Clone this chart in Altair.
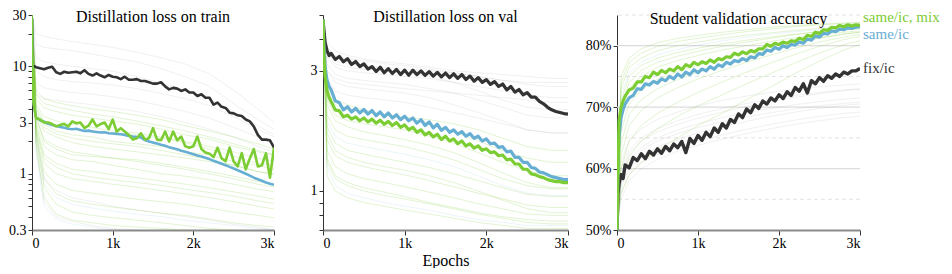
import altair as alt
import pandas as pd

FONT = "'Liberation Serif', 'Times New Roman', Times, serif"
GREEN = "#7ccc34"
BLUE = "#67aed3"
DARK = "#333333"
GRAY = "#8c8c8c"

# ---------------- epochs ----------------
E_TRAIN = [0, 10] + list(range(50, 3001, 50))
E_MAIN = [0, 10, 25, 50, 75] + list(range(100, 3001, 50))
F_E = [0, 50, 150, 300, 500, 750, 1000, 1300, 1600, 1900, 2200, 2500, 2800, 3000]

# ---------------- panel 1: distillation loss on train ----------------
TRAIN_FIX = [28, 10.3,
             9.8, 9.6, 9.4, 9.7, 9.9, 8.8, 8.5, 8.9, 8.7, 8.8,
             8.9, 8.6, 9.2, 8.5, 8.2, 8.6, 8.2, 7.9, 8.3, 8.0,
             7.9, 7.6, 8.0, 7.5, 7.5, 7.6, 7.3, 7.3, 7.1, 6.9,
             6.9, 7.1, 6.5, 6.1, 6.3, 6.2, 5.9, 6.1, 5.7, 5.7,
             5.3, 5.5, 5.1, 5.1, 4.4, 4.6, 4.2, 4.1, 3.7, 3.65,
             3.5, 3.45, 3.2, 3.07, 2.75, 2.3, 2.08, 2.08, 2.05, 1.75]
TRAIN_MIX = [28, 5.1,
             3.3, 3.2, 3.0, 3.0, 2.9, 2.76, 2.85, 2.9, 2.76, 3.07,
             2.95, 3.0, 2.66, 2.8, 3.2, 2.76, 2.9, 3.0, 2.6, 3.2,
             2.47, 2.66, 2.47, 2.3, 2.08, 2.14, 2.38, 2.08, 2.14, 2.66,
             2.08, 2.05, 2.47, 2.0, 2.47, 2.05, 2.22, 1.8, 1.75, 1.8,
             2.22, 1.7, 1.58, 1.54, 1.43, 1.75, 1.39, 1.31, 1.75, 1.3,
             1.17, 1.56, 1.1, 1.39, 1.7, 1.17, 1.2, 1.55, 0.92, 1.75]
TRAIN_SAME = [28, 5.0,
              3.33, 3.15, 3.05, 2.92, 2.85, 2.78, 2.72, 2.68, 2.62, 2.6,
              2.62, 2.55, 2.5, 2.52, 2.47, 2.45, 2.42, 2.43, 2.38, 2.37,
              2.35, 2.33, 2.3, 2.25, 2.22, 2.2, 2.18, 2.06, 2.0, 1.95,
              1.91, 1.86, 1.82, 1.77, 1.73, 1.69, 1.64, 1.6, 1.56, 1.52,
              1.48, 1.45, 1.41, 1.37, 1.32, 1.28, 1.24, 1.2, 1.16, 1.12,
              1.08, 1.04, 1.0, 0.96, 0.92, 0.89, 0.86, 0.83, 0.81, 0.79]

TRAIN_FAINT_GREEN = {
    "tg1": [30, 6.0, 5.0, 4.6, 4.3, 4.0, 3.8, 3.5, 3.2, 2.8, 2.5, 2.2, 1.9, 1.7],
    "tg2": [30, 5.0, 4.1, 3.8, 3.5, 3.3, 3.1, 2.9, 2.6, 2.3, 2.1, 1.8, 1.6, 1.5],
    "tg3": [30, 4.4, 3.4, 3.1, 2.9, 2.7, 2.5, 2.4, 2.2, 2.0, 1.8, 1.6, 1.4, 1.3],
    "tg4": [30, 4.0, 2.9, 2.5, 2.3, 2.2, 2.0, 1.9, 1.8, 1.6, 1.5, 1.3, 1.2, 1.1],
    "tg5": [30, 3.6, 2.5, 2.2, 1.95, 1.8, 1.7, 1.6, 1.5, 1.4, 1.3, 1.2, 1.05, 1.0],
    "tg6": [30, 3.3, 2.1, 1.8, 1.6, 1.5, 1.4, 1.35, 1.25, 1.15, 1.05, 0.95, 0.85, 0.8],
    "tg7": [30, 3.0, 1.8, 1.5, 1.35, 1.3, 1.2, 1.1, 1.0, 0.95, 0.88, 0.8, 0.72, 0.68],
    "tg8": [30, 2.8, 1.5, 1.25, 1.1, 1.05, 0.98, 0.92, 0.86, 0.8, 0.74, 0.68, 0.62, 0.58],
    "tg9": [30, 2.6, 1.25, 1.0, 0.9, 0.85, 0.8, 0.75, 0.7, 0.65, 0.6, 0.55, 0.5, 0.47],
    "tg10": [30, 2.4, 1.05, 0.8, 0.7, 0.66, 0.62, 0.58, 0.55, 0.52, 0.48, 0.44, 0.41, 0.39],
    "tg11": [30, 2.2, 0.9, 0.65, 0.56, 0.52, 0.49, 0.46, 0.43, 0.41, 0.38, 0.35, 0.33, 0.32],
    "tg12": [30, 2.0, 0.75, 0.52, 0.44, 0.41, 0.39, 0.37, 0.35, 0.33, 0.31, 0.3, 0.29, 0.28],
    "tg13": [30, 4.2, 3.1, 2.8, 2.6, 2.5, 2.4, 2.3, 2.15, 1.95, 1.7, 1.45, 1.25, 1.2],
    "tg14": [30, 3.4, 2.0, 1.7, 1.5, 1.45, 1.4, 1.3, 1.2, 1.1, 1.0, 0.9, 0.8, 0.75],
    "tg15": [30, 2.7, 1.4, 1.15, 1.0, 0.93, 0.88, 0.83, 0.78, 0.72, 0.67, 0.62, 0.56, 0.53],
    "tg16": [30, 1.8, 0.6, 0.42, 0.37, 0.35, 0.33, 0.32, 0.31, 0.3, 0.29, 0.28, 0.27, 0.27],
    "tg17": [30, 5.5, 4.5, 4.2, 3.9, 3.6, 3.4, 3.1, 2.8, 2.5, 2.2, 1.9, 1.65, 1.5],
    "tg18": [30, 3.8, 2.7, 2.35, 2.15, 2.0, 1.9, 1.8, 1.65, 1.5, 1.35, 1.2, 1.05, 0.98],
}
TRAIN_FAINT_GRAY = {
    "tk1": [30, 20, 19, 18, 17, 16, 15, 13.5, 12, 10.5, 8.5, 6, 4, 3],
    "tk2": [30, 16, 15, 14.5, 14, 13, 12, 11, 9.5, 8, 6.5, 4.5, 3.2, 2.6],
    "tk3": [30, 12, 11, 10.5, 10, 9.5, 9, 8, 7, 6, 5, 3.8, 2.8, 2.3],
    "tk4": [30, 9, 8, 7.5, 7.2, 7, 6.7, 6.2, 5.6, 5, 4.3, 3.4, 2.6, 2.2],
    "tk5": [30, 7, 6.3, 6, 5.7, 5.5, 5.2, 4.8, 4.3, 3.8, 3.3, 2.7, 2.2, 1.9],
    "tk6": [30, 5.5, 5, 4.8, 4.6, 4.4, 4.1, 3.8, 3.4, 3.0, 2.6, 2.2, 1.8, 1.6],
    "tk7": [30, 2.5, 0.9, 0.7, 0.6, 0.55, 0.5, 0.46, 0.43, 0.4, 0.37, 0.34, 0.32, 0.3],
    "tk8": [30, 1.9, 0.55, 0.4, 0.36, 0.33, 0.31, 0.3, 0.29, 0.28, 0.28, 0.27, 0.27, 0.26],
}
TRAIN_FAINT_BLUE = {
    "tb1": [30, 1.6, 0.5, 0.38, 0.34, 0.32, 0.3, 0.29, 0.28, 0.28, 0.27, 0.27, 0.26, 0.26],
    "tb2": [30, 2.3, 0.8, 0.6, 0.52, 0.48, 0.45, 0.42, 0.4, 0.37, 0.35, 0.33, 0.31, 0.3],
}

# ---------------- panel 2: distillation loss on val ----------------
VAL_FIX = [4.8, 4.4, 3.9, 3.6, 3.45,
           3.52, 3.33, 3.42, 3.26, 3.35, 3.18, 3.27, 3.12, 3.20, 3.05,
           3.12, 2.98, 3.10, 2.95, 3.06, 2.93, 3.04, 2.90, 3.02, 2.88,
           3.02, 2.90, 3.00, 2.88, 2.98, 2.86, 2.96, 2.84, 2.94, 2.82,
           2.92, 2.80, 2.90, 2.77, 2.86, 2.73, 2.82, 2.70, 2.77, 2.65,
           2.72, 2.60, 2.66, 2.52, 2.60, 2.47, 2.53, 2.41, 2.46, 2.36,
           2.36, 2.27, 2.22, 2.15, 2.10, 2.07, 2.05, 2.03, 2.02]
VAL_SAME = [4.8, 3.8, 3.1, 2.75, 2.6,
            2.52, 2.28, 2.24, 2.10, 2.16, 2.06, 2.13, 2.04, 2.11, 2.02,
            2.09, 1.99, 2.06, 1.97, 2.04, 1.95, 2.01, 1.92, 1.98, 1.90,
            1.95, 1.86, 1.92, 1.82, 1.88, 1.78, 1.84, 1.74, 1.79, 1.71,
            1.75, 1.68, 1.72, 1.65, 1.69, 1.62, 1.65, 1.58, 1.61, 1.54,
            1.55, 1.49, 1.50, 1.43, 1.44, 1.36, 1.36, 1.30, 1.30, 1.24,
            1.23, 1.19, 1.18, 1.16, 1.14, 1.13, 1.12, 1.11, 1.11]
VAL_MIX = [4.8, 3.5, 2.85, 2.5, 2.35,
           2.26, 2.10, 2.08, 1.97, 2.00, 1.93, 1.97, 1.90, 1.95, 1.88,
           1.93, 1.86, 1.91, 1.84, 1.89, 1.82, 1.87, 1.79, 1.83, 1.75,
           1.79, 1.71, 1.75, 1.67, 1.71, 1.64, 1.68, 1.60, 1.65, 1.58,
           1.61, 1.54, 1.58, 1.51, 1.54, 1.48, 1.51, 1.45, 1.47, 1.42,
           1.43, 1.38, 1.39, 1.33, 1.34, 1.28, 1.28, 1.22, 1.22, 1.17,
           1.16, 1.14, 1.13, 1.11, 1.10, 1.09, 1.09, 1.08, 1.08]

VAL_FAINT_GRAY = {
    "vk1": [4.8, 3.9, 3.6, 3.45, 3.35, 3.25, 3.2, 3.1, 3.0, 2.95, 2.9, 2.85, 2.8, 2.8],
    "vk2": [4.8, 3.6, 3.3, 3.2, 3.15, 3.1, 3.05, 3.0, 2.95, 2.85, 2.75, 2.65, 2.6, 2.6],
    "vk3": [4.8, 3.4, 3.1, 3.0, 2.95, 2.9, 2.85, 2.8, 2.7, 2.6, 2.5, 2.4, 2.35, 2.35],
    "vk4": [4.8, 3.2, 2.9, 2.8, 2.75, 2.7, 2.65, 2.55, 2.45, 2.3, 2.15, 2.0, 1.95, 1.95],
    "vk5": [4.8, 3.0, 2.7, 2.6, 2.55, 2.5, 2.45, 2.35, 2.2, 2.05, 1.9, 1.75, 1.7, 1.7],
    "vk6": [4.8, 2.8, 2.5, 2.4, 2.35, 2.3, 2.25, 2.15, 2.05, 1.95, 1.85, 1.75, 1.7, 1.7],
    "vk7": [4.8, 3.5, 3.2, 3.1, 3.05, 3.0, 2.95, 2.85, 2.7, 2.5, 2.3, 2.15, 2.1, 2.1],
    "vk8": [4.8, 3.0, 2.8, 2.7, 2.65, 2.6, 2.55, 2.5, 2.45, 2.4, 2.35, 2.3, 2.25, 2.25],
    "vk9": [4.8, 3.7, 3.45, 3.35, 3.3, 3.2, 3.15, 3.05, 2.95, 2.85, 2.75, 2.7, 2.7, 2.7],
}
VAL_FAINT_GREEN = {
    "vg1": [4.8, 2.6, 2.3, 2.2, 2.1, 2.0, 1.95, 1.85, 1.72, 1.58, 1.45, 1.35, 1.3, 1.3],
    "vg2": [4.8, 2.3, 2.0, 1.9, 1.85, 1.8, 1.75, 1.65, 1.55, 1.42, 1.3, 1.2, 1.15, 1.15],
    "vg3": [4.8, 2.0, 1.75, 1.65, 1.6, 1.55, 1.5, 1.42, 1.33, 1.22, 1.12, 1.05, 1.02, 1.02],
    "vg4": [4.8, 1.8, 1.55, 1.45, 1.4, 1.35, 1.3, 1.24, 1.17, 1.1, 1.03, 0.97, 0.95, 0.95],
    "vg5": [4.8, 1.6, 1.38, 1.3, 1.25, 1.2, 1.16, 1.1, 1.04, 0.98, 0.93, 0.88, 0.86, 0.86],
    "vg6": [4.8, 1.45, 1.25, 1.17, 1.12, 1.08, 1.04, 0.99, 0.94, 0.89, 0.85, 0.81, 0.8, 0.8],
    "vg7": [4.8, 1.3, 1.12, 1.05, 1.0, 0.96, 0.93, 0.89, 0.85, 0.81, 0.78, 0.75, 0.74, 0.74],
    "vg8": [4.8, 1.15, 1.0, 0.94, 0.9, 0.87, 0.84, 0.81, 0.78, 0.75, 0.73, 0.71, 0.71, 0.71],
    "vg9": [4.8, 2.2, 1.9, 1.8, 1.72, 1.66, 1.6, 1.52, 1.42, 1.3, 1.18, 1.08, 1.03, 1.03],
    "vg10": [4.8, 1.7, 1.45, 1.36, 1.3, 1.25, 1.21, 1.15, 1.08, 1.0, 0.92, 0.85, 0.82, 0.82],
    "vg11": [4.8, 2.5, 2.2, 2.1, 2.05, 2.0, 1.97, 1.92, 1.85, 1.75, 1.62, 1.5, 1.45, 1.45],
    "vg12": [4.8, 1.35, 1.15, 1.08, 1.03, 0.99, 0.95, 0.9, 0.86, 0.82, 0.79, 0.77, 0.76, 0.76],
}
VAL_FAINT_BLUE = {
    "vb1": [4.8, 1.9, 1.65, 1.55, 1.5, 1.45, 1.4, 1.33, 1.25, 1.15, 1.05, 0.98, 0.96, 0.96],
    "vb2": [4.8, 1.25, 1.05, 0.98, 0.94, 0.9, 0.87, 0.84, 0.8, 0.77, 0.75, 0.73, 0.73, 0.73],
}

# ---------------- panel 3: student validation accuracy ----------------
ACC_FIX = [50, 55.8, 57.5, 59.0, 58.4,
           60.6, 60.1, 61.8, 61.3, 62.4, 61.6, 62.8, 62.2, 63.2, 62.5,
           63.6, 62.9, 64.0, 63.4, 64.4, 62.6, 64.9, 64.1, 65.4, 64.6,
           65.9, 65.2, 66.6, 65.9, 67.3, 66.6, 68.0, 67.5, 68.9, 68.3,
           69.7, 69.1, 70.4, 69.8, 71.0, 70.5, 71.5, 71.0, 72.0, 71.4,
           72.5, 71.9, 73.2, 72.6, 73.8, 72.3, 74.3, 73.8, 74.8, 74.2,
           75.1, 74.7, 75.4, 75.0, 75.7, 75.4, 75.9, 75.9, 76.3]
ACC_MIX = [50, 58.5, 67.7, 70.0, 71.0,
           71.8, 72.8, 73.1, 74.1, 74.1, 75.0, 74.8, 75.7, 75.3, 76.0,
           75.6, 76.2, 75.9, 76.6, 76.1, 76.9, 76.6, 77.3, 76.9, 77.4,
           77.1, 77.7, 77.3, 77.9, 77.7, 78.2, 78.1, 78.8, 78.5, 79.0,
           78.7, 79.2, 79.0, 79.5, 79.5, 80.2, 79.9, 80.4, 80.2, 80.6,
           80.4, 80.8, 80.7, 81.2, 81.0, 81.7, 81.5, 82.2, 82.0, 82.6,
           82.5, 83.0, 82.9, 83.3, 83.1, 83.4, 83.2, 83.4, 83.3]
ACC_SAME = [50, 60.0, 65.0, 68.3, 69.6,
            70.5, 71.5, 71.9, 73.0, 72.9, 73.8, 73.6, 74.2, 73.9, 74.6,
            74.3, 75.0, 74.6, 75.4, 74.9, 75.7, 75.3, 76.1, 75.6, 76.2,
            75.9, 76.6, 76.2, 76.9, 76.6, 77.3, 77.0, 77.6, 77.4, 77.9,
            77.6, 78.2, 78.0, 78.7, 78.6, 79.3, 79.1, 79.7, 79.4, 80.0,
            79.7, 80.2, 80.1, 80.6, 80.4, 81.1, 80.9, 81.6, 81.4, 82.0,
            81.9, 82.4, 82.3, 82.7, 82.6, 82.9, 82.8, 83.0, 83.1]

ACC_FAINT_GREEN = {
    "ag1": [50, 75, 78, 79.5, 80.5, 81.2, 81.7, 82.2, 82.6, 83.0, 83.3, 83.5, 83.7, 83.8],
    "ag2": [50, 73, 76.5, 78, 79.2, 80.0, 80.6, 81.2, 81.7, 82.1, 82.5, 82.8, 83.0, 83.1],
    "ag3": [50, 71, 75, 76.8, 78, 78.9, 79.6, 80.3, 80.9, 81.4, 81.9, 82.3, 82.6, 82.7],
    "ag4": [50, 69, 73, 75, 76.5, 77.6, 78.4, 79.3, 80.0, 80.7, 81.3, 81.8, 82.2, 82.4],
    "ag5": [50, 66, 70.5, 72.8, 74.5, 75.8, 76.8, 77.9, 78.9, 79.8, 80.6, 81.3, 81.9, 82.2],
    "ag6": [50, 62, 67, 69.5, 71.5, 73.2, 74.6, 76.0, 77.3, 78.5, 79.6, 80.6, 81.4, 81.8],
    "ag7": [50, 58, 62, 64.5, 66.5, 68.5, 70.2, 72.0, 73.8, 75.5, 77.2, 78.8, 80.2, 80.8],
    "ag8": [50, 60, 64.5, 67, 69, 70.8, 72.4, 74.1, 75.7, 77.2, 78.6, 79.9, 81.0, 81.5],
    "ag9": [50, 74, 77.3, 78.8, 79.9, 80.7, 81.2, 81.8, 82.3, 82.7, 83.1, 83.4, 83.6, 83.7],
    "ag10": [50, 70, 74, 76, 77.3, 78.3, 79.1, 79.9, 80.6, 81.2, 81.8, 82.3, 82.7, 82.9],
    "ag11": [50, 56, 59, 61, 63, 65, 67, 69, 71.2, 73.3, 75.5, 77.5, 79.3, 80.2],
    "ag12": [50, 64, 68.8, 71.2, 73, 74.5, 75.7, 77.0, 78.2, 79.3, 80.3, 81.2, 81.9, 82.2],
}
ACC_FAINT_GRAY = {
    "ak1": [50, 60, 63, 65, 66.5, 67.8, 68.8, 69.8, 70.6, 71.3, 71.9, 72.4, 72.8, 73.0],
    "ak2": [50, 58, 61.5, 63.5, 65, 66.3, 67.3, 68.3, 69.1, 69.8, 70.4, 70.9, 71.3, 71.5],
    "ak3": [50, 57, 60, 62, 63.5, 64.8, 65.8, 66.8, 67.7, 68.5, 69.2, 69.8, 70.3, 70.5],
    "ak4": [50, 56, 59, 61, 62.3, 63.5, 64.5, 65.5, 66.4, 67.2, 67.9, 68.5, 69.0, 69.2],
    "ak5": [50, 61, 64.5, 66.5, 68, 69.2, 70.2, 71.1, 71.8, 72.4, 72.9, 73.3, 73.6, 73.8],
    "ak6": [50, 55, 58, 60, 61.5, 62.8, 63.8, 64.8, 65.7, 66.5, 67.2, 67.8, 68.3, 68.5],
    "ak7": [50, 59, 62.5, 64.5, 66, 67.2, 68.2, 69.2, 70.1, 70.9, 71.6, 72.2, 72.7, 72.9],
    "ak8": [50, 57.5, 61, 63, 64.5, 65.7, 66.7, 67.6, 68.4, 69.1, 69.7, 70.2, 70.6, 70.8],
}
ACC_FAINT_BLUE = {
    "ab1": [50, 72, 75.5, 77.3, 78.5, 79.4, 80.1, 80.8, 81.4, 81.9, 82.3, 82.6, 82.8, 82.9],
}

GRID_SOLID = [60, 70, 80]
GRID_DASHED = [55, 65, 75, 85]
LABELS = ["same/ic, mix", "same/ic", "fix/ic"]
LABEL_Y = [84.6, 81.9, 76.4]
LABEL_COLORS = {"same/ic, mix": GREEN, "same/ic": BLUE, "fix/ic": DARK}

TRAIN_TICKS = [0.3, 0.4, 0.5, 0.6, 0.7, 0.8, 0.9, 1, 2, 3, 4, 5, 6, 7, 8, 9, 10, 20, 30]
VAL_TICKS = [0.7, 0.8, 0.9, 1, 2, 3, 4, 5]
ACC_TICKS = [50, 55, 60, 65, 70, 75, 80, 85]

KIND_COLORS = {"gray": GRAY, "green": GREEN, "blue": BLUE}
KIND_OPACITY = {"gray": 0.13, "green": 0.22, "blue": 0.13}


def faint_rows(groups):
    rows = []
    for kind, series in groups:
        for run, vals in series.items():
            for e, v in zip(F_E, vals):
                rows.append({"epoch": e, "value": v, "run": run, "kind": kind})
    return pd.DataFrame(rows)


def main_df(epochs, vals):
    return pd.DataFrame({"epoch": epochs, "value": vals})


X_AXIS = dict(values=[0, 1000, 2000, 3000],
              labelExpr="datum.value == 0 ? '0' : (datum.value / 1000) + 'k'",
              labelFont=FONT, labelFontSize=14, labelColor="black",
              domainColor="#8a8a8a", domainWidth=2, tickColor="#333", tickSize=5,
              labelPadding=1, grid=False, titleFont=FONT, titleFontSize=16,
              titleFontWeight="normal", titleColor="black", titlePadding=2)


def panel(title, faint, mains, yscale, yaxis, xtitle=None, extra=None, width=242):
    x = alt.X("epoch:Q", scale=alt.Scale(domain=[0, 3000], nice=False),
              axis=alt.Axis(title=xtitle, **X_AXIS) if xtitle else alt.Axis(title=None, **X_AXIS))
    y = alt.Y("value:Q", scale=yscale, axis=yaxis)
    layers = []
    for kind in ["gray", "blue", "green"]:
        sub = faint[faint["kind"] == kind]
        if len(sub):
            layers.append(alt.Chart(sub).mark_line(
                clip=True, strokeWidth=1, color=KIND_COLORS[kind],
                opacity=KIND_OPACITY[kind]).encode(x=x, y=y, detail="run:N"))
    for df, col, sw in mains:
        layers.append(alt.Chart(df).mark_line(clip=True, strokeWidth=sw, color=col,
                                              strokeJoin="round").encode(x=x, y=y))
    if extra:
        layers = extra() + layers
    ch = alt.layer(*layers).properties(
        width=width, height=215,
        title=alt.TitleParams(title, font=FONT, fontSize=16, fontWeight="normal",
                              color="black", offset=-17))
    return ch


def y_axis(ticks, expr):
    return alt.Axis(title=None, values=ticks, labelExpr=expr, labelFont=FONT,
                    labelFontSize=14, labelColor="black", labelOverlap=False,
                    domainColor="#333", tickColor="#333", tickSize=4,
                    labelPadding=2, grid=False)


p1 = panel(
    "Distillation loss on train",
    faint_rows([("gray", TRAIN_FAINT_GRAY), ("blue", TRAIN_FAINT_BLUE), ("green", TRAIN_FAINT_GREEN)]),
    [(main_df(E_TRAIN, TRAIN_FIX), DARK, 2.6),
     (main_df(E_TRAIN, TRAIN_SAME), BLUE, 2.6),
     (main_df(E_TRAIN, TRAIN_MIX), GREEN, 2.6)],
    alt.Scale(type="log", domain=[0.3, 30], nice=False),
    y_axis(TRAIN_TICKS, "datum.value == 0.3 ? '0.3' : (datum.value == 1 || datum.value == 3 || datum.value == 10 || datum.value == 30) ? '' + datum.value : ''"),
    width=242,
)

p2 = panel(
    "Distillation loss on val",
    faint_rows([("gray", VAL_FAINT_GRAY), ("blue", VAL_FAINT_BLUE), ("green", VAL_FAINT_GREEN)]),
    [(main_df(E_MAIN, VAL_FIX), DARK, 3.2),
     (main_df(E_MAIN, VAL_SAME), BLUE, 3.2),
     (main_df(E_MAIN, VAL_MIX), GREEN, 3.2)],
    alt.Scale(type="log", domain=[0.7, 5], nice=False),
    y_axis(VAL_TICKS, "(datum.value == 1 || datum.value == 3) ? '' + datum.value : ''"),
    xtitle="Epochs",
    width=245,
)

ACC_Y = alt.Scale(domain=[50, 85], nice=False)


def acc_extra():
    solid = alt.Chart(pd.DataFrame({"v": GRID_SOLID})).mark_rule(
        color="#dcdcdc", strokeWidth=1.3).encode(y=alt.Y("v:Q", scale=ACC_Y))
    dashed = alt.Chart(pd.DataFrame({"v": GRID_DASHED})).mark_rule(
        color="#e2e2e2", strokeWidth=1, strokeDash=[4, 3]).encode(y=alt.Y("v:Q", scale=ACC_Y))
    return [solid, dashed]


p3_base = panel(
    "Student validation accuracy",
    faint_rows([("gray", ACC_FAINT_GRAY), ("blue", ACC_FAINT_BLUE), ("green", ACC_FAINT_GREEN)]),
    [(main_df(E_MAIN, ACC_FIX), DARK, 3.4),
     (main_df(E_MAIN, ACC_SAME), BLUE, 3.2),
     (main_df(E_MAIN, ACC_MIX), GREEN, 3.2)],
    ACC_Y,
    y_axis(ACC_TICKS, "datum.value % 10 == 0 ? datum.value + '%' : ''"),
    extra=acc_extra,
    width=243,
)

label_layers = []
for lab, yv in zip(LABELS, LABEL_Y):
    label_layers.append(
        alt.Chart(pd.DataFrame({"label": [lab], "value": [yv], "epoch": [3000]})).mark_text(
            align="left", baseline="middle", dx=3, font=FONT, fontSize=15,
            color=LABEL_COLORS[lab]).encode(
            x=alt.X("epoch:Q", scale=alt.Scale(domain=[0, 3000], nice=False)),
            y=alt.Y("value:Q", scale=ACC_Y),
            text="label:N"))

p3 = alt.layer(p3_base, *label_layers)

chart = alt.hconcat(p1, p2, p3, spacing=49, bounds="flush").properties(
    padding={"left": 0, "top": 0, "right": 0, "bottom": 0}
).configure_view(stroke=None)

chart.save("out.html", embed_options={"renderer": "svg", "actions": False})
